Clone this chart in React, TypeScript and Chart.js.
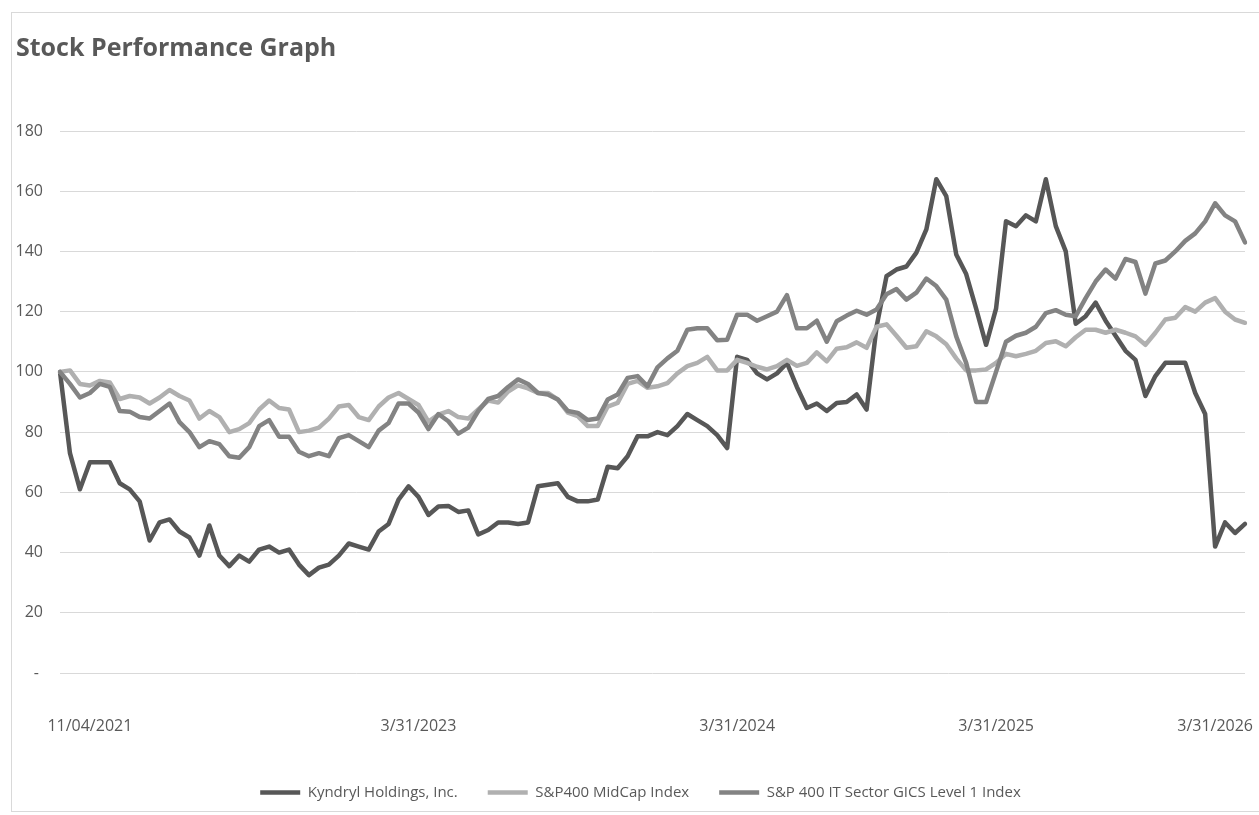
import React, { useEffect, useRef } from 'react';
import { Chart, registerables } from 'chart.js';

Chart.register(...registerables);

// ---- data (~120 samples per series) ----
const SERIES_NAMES = [
  'Kyndryl Holdings, Inc.',
  'S&P400 MidCap Index',
  'S&P 400 IT Sector GICS Level 1 Index',
];

const KYNDRYL = [
  100, 73, 61, 70, 70, 70, 63, 61, 57, 44,
  50, 51, 47, 45, 39, 49, 39, 35.5, 39, 37,
  41, 42, 40, 41, 36, 32.5, 35, 36, 39, 43,
  42, 41, 47, 49.5, 57.6, 62, 58.5, 52.5, 55.3, 55.5,
  53.5, 54, 46, 47.5, 50, 50, 49.5, 50, 62, 62.5,
  63, 58.5, 57, 57, 57.6, 68.5, 68, 72, 78.6, 78.6,
  80, 79, 82, 86, 84, 82, 79, 74.7, 105, 104,
  99.5, 97.5, 99.5, 103, 95, 88, 89.5, 87, 89.7, 90,
  92.5, 87.5, 115, 131.8, 134, 135, 139.6, 147.3, 164, 158.4,
  139, 132.5, 121, 109, 121, 150, 148.4, 152, 150, 164,
  148.4, 140, 116, 118.5, 123, 117, 112, 107, 104, 92,
  98.6, 103, 103, 103, 93, 86, 42, 50, 46.5, 49.5,
];

const MIDCAP = [
  100, 100.5, 96, 95.5, 97, 96.5, 91, 92, 91.5, 89.5,
  91.5, 94, 92, 90.5, 84.5, 87, 85, 80, 81, 83,
  87.5, 90.5, 88, 87.5, 80, 80.5, 81.5, 84.5, 88.5, 89,
  85, 84, 88.5, 91.5, 93, 91, 89, 83.5, 85.8, 87,
  85, 84.5, 87.5, 90.5, 89.8, 93.5, 95.5, 94.5, 93, 93,
  90.8, 86.5, 85.3, 82, 82, 88.5, 89.7, 96, 97, 94.7,
  95.2, 96.3, 99.5, 101.9, 103, 105, 100.5, 100.5, 104, 103,
  101.7, 100.8, 101.9, 104, 102, 103, 106.5, 103.5, 107.7, 108.2,
  109.8, 108, 115, 115.8, 112, 108, 108.5, 113.5, 111.8, 109.2,
  104.5, 100.5, 100.5, 100.8, 103, 106, 105.2, 106, 107, 109.6,
  110.2, 108.5, 111.5, 114, 114, 113, 114, 113, 111.8, 109,
  113, 117.4, 118, 121.5, 120, 123, 124.5, 120, 117.4, 116.3,
];

const IT_SECTOR = [
  100, 96, 91.5, 93, 96, 95, 87, 86.8, 85, 84.5,
  87, 89.5, 83.3, 80, 75, 77, 76, 72, 71.5, 75,
  82, 84, 78.5, 78.5, 73.5, 72, 73, 72, 78, 79,
  77, 75, 80.5, 83, 89.5, 89.5, 86.5, 81, 86, 83.6,
  79.5, 81.5, 87, 91, 92, 95, 97.5, 96, 93, 92.5,
  90.8, 87, 86.4, 84, 84.5, 90.8, 92.5, 98, 98.6, 95.2,
  101.5, 104.5, 107, 114, 114.5, 114.5, 110.5, 110.7, 119, 119,
  117, 118.5, 120, 125.5, 114.5, 114.5, 117, 110, 116.8, 118.7,
  120.3, 119, 120.7, 125.8, 127.5, 124, 126.3, 131, 128.5, 124,
  111.8, 103, 90, 90, 100, 110, 112, 113, 115, 119.5,
  120.5, 119, 118.5, 124.5, 130, 134, 131, 137.5, 136.5, 126,
  136, 137, 140, 143.5, 146, 150, 156, 152, 150, 143,
];

// x-axis tick labels and the sample index each one sits at
const TICK_LABELS = ['11/04/2021', '3/31/2023', '3/31/2024', '3/31/2025', '3/31/2026'];
const TICK_INDEX = [3, 36, 68, 94, 116];

const Y_MIN = 0;
const Y_MAX = 180;
const Y_STEP = 20;

const COLORS = ['#575757', '#b0b0b0', '#838383'];
const TEXT = '#595959';
const GRID = '#d9d9d9';
const FONT = "'Open Sans', sans-serif";

export default function App() {
  const ref = useRef<HTMLCanvasElement | null>(null);

  useEffect(() => {
    if (!ref.current) return;
    const categories = KYNDRYL.map((_, i) => {
      const k = TICK_INDEX.indexOf(i);
      return k >= 0 ? TICK_LABELS[k] : '';
    });

    const series = [KYNDRYL, MIDCAP, IT_SECTOR];
    // Excel draws later series on top; Chart.js draws index 0 on top -> reverse
    const datasets = [2, 1, 0].map((s) => ({
      label: SERIES_NAMES[s],
      data: series[s],
      borderColor: COLORS[s],
      backgroundColor: COLORS[s],
      borderWidth: 4.5,
      pointRadius: 0,
      pointHoverRadius: 0,
      tension: 0,
      fill: false,
      borderJoinStyle: 'round' as const,
      borderCapStyle: 'round' as const,
    }));

    const legendShift = {
      id: 'legendShift',
      afterLayout(chart: any) {
        if (chart.legend) {
          chart.legend.left += 10;
          chart.legend.right += 10;
        }
      },
    };

    const chart = new Chart(ref.current, {
      type: 'line',
      data: { labels: categories, datasets },
      plugins: [legendShift],
      options: {
        animation: false,
        responsive: false,
        devicePixelRatio: 1,
        layout: { padding: { left: 4, right: 14, top: 0, bottom: 1 } },
        plugins: {
          title: {
            display: true,
            text: 'Stock Performance Graph',
            align: 'start',
            color: TEXT,
            font: { family: FONT, size: 25, weight: 'bold', lineHeight: 1.2 },
            padding: { top: 21, bottom: 67 },
          },
          legend: {
            display: true,
            position: 'bottom',
            labels: {
              usePointStyle: true,
              pointStyle: 'line',
              pointStyleWidth: 40,
              padding: 30,
              color: TEXT,
              font: { family: FONT, size: 15 },
              sort: (a: any, b: any) => b.datasetIndex - a.datasetIndex,
            },
          },
          tooltip: { enabled: false },
        },
        scales: {
          x: {
            type: 'category',
            grid: { display: false, drawTicks: false },
            border: { display: false },
            afterFit: (scale: any) => {
              scale.height = 82;
              scale.paddingLeft = 0;
              scale.paddingRight = 0;
              if (scale._margins) {
                scale._margins.left = 0;
                scale._margins.right = 0;
              }
            },
            ticks: {
              autoSkip: false,
              maxRotation: 0,
              minRotation: 0,
              padding: 44,
              color: TEXT,
              font: { family: FONT, size: 16 },
              callback: (_v: any, i: number) => (categories[i] ? categories[i] : null),
            },
          },
          y: {
            min: Y_MIN,
            max: Y_MAX,
            grid: { color: GRID, lineWidth: 1, drawTicks: false },
            border: { display: false },
            afterFit: (scale: any) => {
              scale.width = 44;
            },
            ticks: {
              stepSize: Y_STEP,
              padding: 17,
              color: TEXT,
              font: { family: FONT, size: 16 },
              callback: (v: any) => (Number(v) === 0 ? '- ' : String(v)),
            },
          },
        },
      },
    } as any);

    return () => chart.destroy();
  }, []);

  return (
    <div
      style={{
        position: 'absolute',
        left: 11,
        top: 12,
        width: 1248,
        height: 800,
        boxSizing: 'border-box',
        borderLeft: '1px solid #d9d9d9',
        borderTop: '1px solid #d9d9d9',
        borderBottom: '1px solid #d9d9d9',
        background: '#fff',
      }}
    >
      <canvas ref={ref} width={1247} height={798} style={{ display: 'block' }} />
    </div>
  );
}
